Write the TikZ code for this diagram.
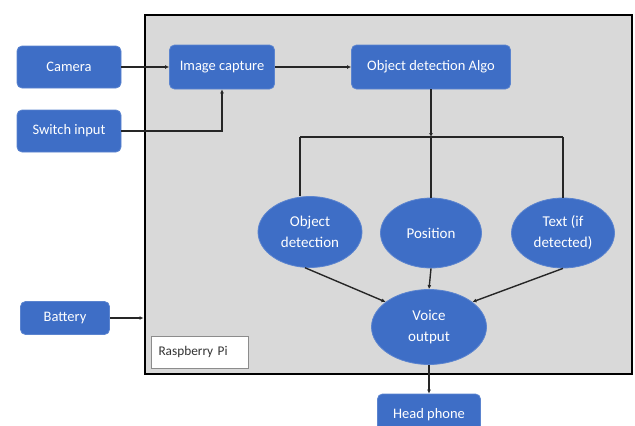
\documentclass[tikz,border=0pt]{standalone}
\usepackage{fontspec}
\setmainfont{Carlito}
\usetikzlibrary{shapes.geometric,arrows.meta}
\definecolor{piblue}{RGB}{62,110,198}
\definecolor{pigray}{RGB}{217,217,217}
\begin{document}
\begin{tikzpicture}[x=1pt,y=-1pt,
        block/.style={draw=piblue!85!white,fill=piblue,rounded corners=5pt,text=white,
            font=\fontsize{14.5}{17}\selectfont,inner sep=0pt,line width=0.8pt},
        oval/.style={ellipse,draw=piblue!85!white,fill=piblue,text=white,align=center,
            font=\fontsize{15}{21}\selectfont,inner sep=0pt,line width=0.8pt},
        link/.style={draw=black!85,line width=1.4pt},
        arrow/.style={link,-{Latex[length=4pt,width=4pt]}}]
        \useasboundingbox (0,0) rectangle (635,426);

        % Raspberry Pi board
        \node[draw=black,fill=pigray,line width=2pt,minimum width=487pt,minimum height=359pt,inner sep=0pt] (pi) at (388,194) {};
        \node[draw=black!45,fill=white,line width=0.7pt,minimum width=97pt,minimum height=32pt,inner sep=7pt,
            text width=83pt,font=\fontsize{13.3}{15}\selectfont,text=black!80] (label) at (200,352) {Raspberry Pi};

        % Inputs
        \node[block,minimum width=104pt,minimum height=42pt] (camera) at (69,67) {Camera};
        \node[block,minimum width=104pt,minimum height=42pt] (switch) at (69,131) {Switch input};
        \node[block,minimum width=89pt,minimum height=33pt] (battery) at (65,318) {Battery};

        % Processing
        \node[block,minimum width=105pt,minimum height=44pt] (capture) at (222,67) {Image capture};
        \node[block,minimum width=159pt,minimum height=44pt] (algo) at (431,67) {Object detection Algo};

        % Results
        \node[oval,minimum width=104pt,minimum height=71pt] (objdet) at (310,232) {Object\\detection};
        \node[oval,minimum width=101pt,minimum height=70pt] (position) at (431,233) {Position};
        \node[oval,minimum width=103pt,minimum height=70pt] (textdet) at (563,233) {Text (if\\detected)};
        \node[oval,minimum width=115pt,minimum height=75pt] (voice) at (429,327) {Voice\\output};
        \node[block,minimum width=103pt,minimum height=42pt] (phone) at (429,415) {Head phone};

        \coordinate (split) at (431,137);
        \coordinate (barL) at (300,137);
        \coordinate (barR) at (563,137);

        % Connections
        \draw[arrow] (camera) -- (capture);
        \draw[arrow] (switch.east) -| (capture.south);
        \draw[arrow] (capture) -- (algo);
        \draw[arrow] (algo.south) -- (split);
        \draw[link] (barL) -- (barR);
        \draw[link] (barL) -- (barL |- objdet.north);
        \draw[link] (split) -- (position.north);
        \draw[link] (barR) -- (textdet.north);
        \draw[arrow] (objdet.262) -- (voice.150);
        \draw[arrow] (position.south) -- (voice.north);
        \draw[arrow] (textdet.south) -- (voice.30);
        \draw[arrow] (voice.south) -- (phone.north);
        \draw[arrow] (battery.east) -- (battery.east -| pi.west);

    \end{tikzpicture}
\end{document}
